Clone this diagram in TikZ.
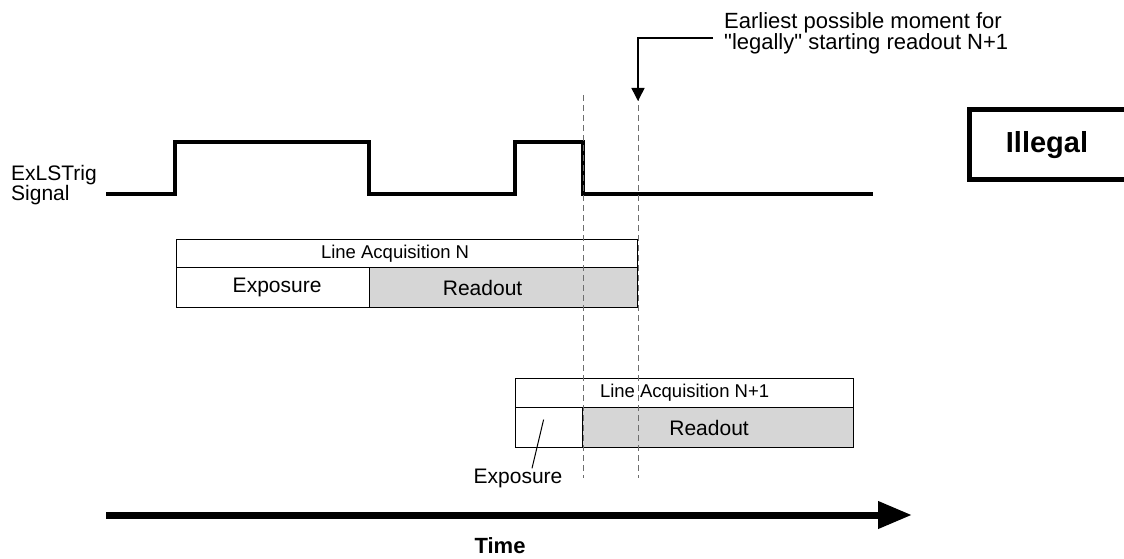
\documentclass[tikz,border=0pt]{standalone}
\usepackage{fontspec}
\setmainfont{Liberation Sans}
\usetikzlibrary{arrows.meta,positioning}
\definecolor{readoutColor}{RGB}{214,214,214}
\definecolor{markerColor}{RGB}{110,110,110}
\tikzset{cell/.append style={draw, line width=1.2pt, inner sep=0pt, anchor=north west},
  txt/.append style={inner sep=0pt, font=\fontsize{21pt}{19pt}\selectfont},
  smalltxt/.append style={inner sep=0pt, font=\fontsize{18.5pt}{18pt}\selectfont},
  signal/.append style={line width=4pt, line join=miter},
  marker/.append style={draw=markerColor, line width=1pt, dash pattern=on 6pt off 4pt}}

\begin{document}
\begin{tikzpicture}[x=1pt, y=-1pt]

    \useasboundingbox (0,0) rectangle (1124,559);

    % Signal
    \node (sigLbl) [txt, align=left, anchor=north west] at (11,165) {ExLSTrig\\Signal};
    \draw [signal] (106,194) -| (175,142) -| (369,194) -| (515,142) -| (583,194) -- (873,194);

    % Line acquisition N
    \node (headN) [cell, minimum width=461pt, minimum height=28pt] at (176,239) {};
    \node (expN) [cell, minimum width=193pt, minimum height=40pt] at (176,267) {};
    \node (rdN) [cell, fill=readoutColor, minimum width=268pt, minimum height=40pt] at (369,267) {};
    \node [smalltxt] at ([xshift=-12pt]headN.center) {Line Acquisition N};
    \node [txt] at ([xshift=4pt]expN.center) {Exposure};
    \node [txt] at ([xshift=-21pt]rdN.center) {Readout};

    % Line acquisition N+1
    \node (headNn) [cell, minimum width=338pt, minimum height=29pt] at (515,378) {};
    \node (expNn) [cell, minimum width=67pt, minimum height=40pt] at (515,407) {};
    \node (rdNn) [cell, fill=readoutColor, minimum width=271pt, minimum height=40pt] at (582,407) {};
    \node [smalltxt] at (headNn.center) {Line Acquisition N+1};
    \node [txt] at ([xshift=-9pt]rdNn.center) {Readout};
    \node (expLbl) [txt, anchor=base] at (518,483) {Exposure};
    \draw [line width=1pt] ([xshift=14pt]expLbl.north) -- ([xshift=-5.5pt,yshift=8pt]expNn.center);

    % Dashed markers
    \coordinate (legalTip) at (638,101);
    \draw [marker] (583,95) -- (583,478);
    \draw [marker] (638,95) -- (638,478);

    % Callout
    \node (note) [inner sep=0pt, align=left, anchor=north west, font=\fontsize{22pt}{20pt}\selectfont] at (724,12) {Earliest possible moment for\\\textquotedbl legally\textquotedbl{} starting readout N+1};
    \draw [line width=1.5pt, -{Triangle[length=13pt,width=13pt]}] (note.west) ++(-11pt,-5pt) -| (legalTip);

    % Illegal
    \node (illegal) [draw, line width=5pt, minimum width=160pt, minimum height=69pt, anchor=west] at (967,144.5) {};
    \node [inner sep=0pt, anchor=base, font=\fontsize{29pt}{29pt}\selectfont\bfseries] at (1047,153) {Illegal};

    % Time axis
    \coordinate (timeStart) at (106,515);
    \coordinate (timeEnd) at (912,515);
    \draw [line width=7pt, -{Triangle[length=34pt,width=26pt]}] (timeStart) -- (timeEnd);
    \node (timeLbl) [inner sep=0pt, anchor=base, font=\fontsize{22pt}{22pt}\selectfont\bfseries] at (500,553) {Time};

\end{tikzpicture}
\end{document}
